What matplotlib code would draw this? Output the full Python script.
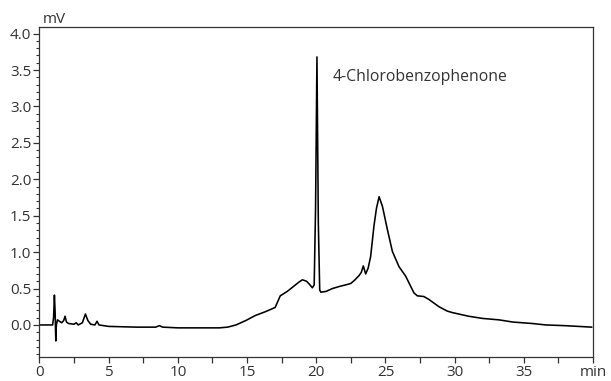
import matplotlib
matplotlib.use("Agg")
import matplotlib.pyplot as plt
from matplotlib.ticker import MultipleLocator

plt.rcParams['font.family'] = ['Open Sans', 'DejaVu Sans']

# retention time (min) and detector signal (mV)
t = [0.0, 0.95, 1.02, 1.08, 1.13, 1.18, 1.22, 1.3, 1.45, 1.6, 1.75, 1.85, 1.95,
     2.1, 2.5, 2.65, 2.8, 3.1, 3.32, 3.5, 3.7, 4.0, 4.16, 4.3, 5.0, 6.0, 7.0,
     8.4, 8.66, 8.9, 10.0, 12.0, 13.0, 13.6, 14.2, 14.9, 15.6, 16.3, 17.03,
     17.4, 17.9, 18.3, 18.76, 19.0, 19.3, 19.5, 19.72, 19.85, 19.95, 20.05,
     20.15, 20.25, 20.33, 20.7, 21.17, 21.7, 22.13, 22.5, 22.8, 23.1, 23.25,
     23.4, 23.57, 23.75, 23.93, 24.17, 24.35, 24.54, 24.78, 25.14, 25.5,
     25.98, 26.46, 27.06, 27.3, 27.78, 28.14, 28.87, 29.47, 29.83, 31.0,
     32.0, 33.2, 34.2, 35.6, 36.6, 38.0, 39.9]
mv = [0.0, 0.0, 0.1, 0.41, 0.18, -0.22, 0.0, 0.07, 0.05, 0.03, 0.06, 0.12,
      0.04, 0.02, 0.01, 0.03, 0.0, 0.03, 0.15, 0.06, 0.01, 0.0, 0.05, 0.0,
      -0.02, -0.025, -0.03, -0.03, -0.01, -0.03, -0.04, -0.04, -0.04, -0.03,
      0.0, 0.06, 0.13, 0.18, 0.24, 0.4, 0.46, 0.52, 0.59, 0.62, 0.6, 0.56,
      0.51, 0.55, 1.6, 3.68, 1.4, 0.48, 0.45, 0.46, 0.5, 0.53, 0.55, 0.57,
      0.62, 0.68, 0.72, 0.81, 0.7, 0.78, 0.94, 1.36, 1.6, 1.76, 1.63, 1.31,
      1.01, 0.8, 0.67, 0.44, 0.4, 0.39, 0.35, 0.25, 0.19, 0.17, 0.12, 0.09,
      0.07, 0.04, 0.02, 0.0, -0.01, -0.03]

peak_label = "4-Chlorobenzophenone"

fig = plt.figure(figsize=(6.11, 3.81), dpi=100)
ax = fig.add_axes([0.0646, 0.063, 0.906, 0.866])

ax.plot(t, mv, color='black', linewidth=1.15)

ax.set_xlim(0, 40)
ax.set_ylim(-0.44, 4.09)
ax.xaxis.set_minor_locator(MultipleLocator(2.5))
ax.yaxis.set_minor_locator(MultipleLocator(0.1))
ax.set_xticks(range(0, 45, 5))
ax.set_xticklabels([str(v) for v in range(0, 40, 5)] + ['min'])
ax.set_yticks([0.0, 0.5, 1.0, 1.5, 2.0, 2.5, 3.0, 3.5, 4.0])
ax.set_yticklabels(['0.0', '0.5', '1.0', '1.5', '2.0', '2.5', '3.0', '3.5', '4.0'])

ax.tick_params(which='major', direction='out', length=4, width=0.9,
               labelsize=11, colors='#333333', pad=2)
ax.tick_params(axis='y', which='minor', direction='out', length=2, width=0.8, colors='#333333')
ax.tick_params(axis='x', which='minor', direction='out', length=4, width=0.9, colors='#333333')
for s in ax.spines.values():
    s.set_color('#333333')
    s.set_linewidth(0.9)

ax.text(0.006, 1.0, 'mV', transform=ax.transAxes, ha='left', va='bottom',
        fontsize=11, color='#333333')
ax.text(21.15, 3.41, peak_label, ha='left', va='center', fontsize=11.3, color='#333333')

fig.savefig('out.png', dpi=100)
